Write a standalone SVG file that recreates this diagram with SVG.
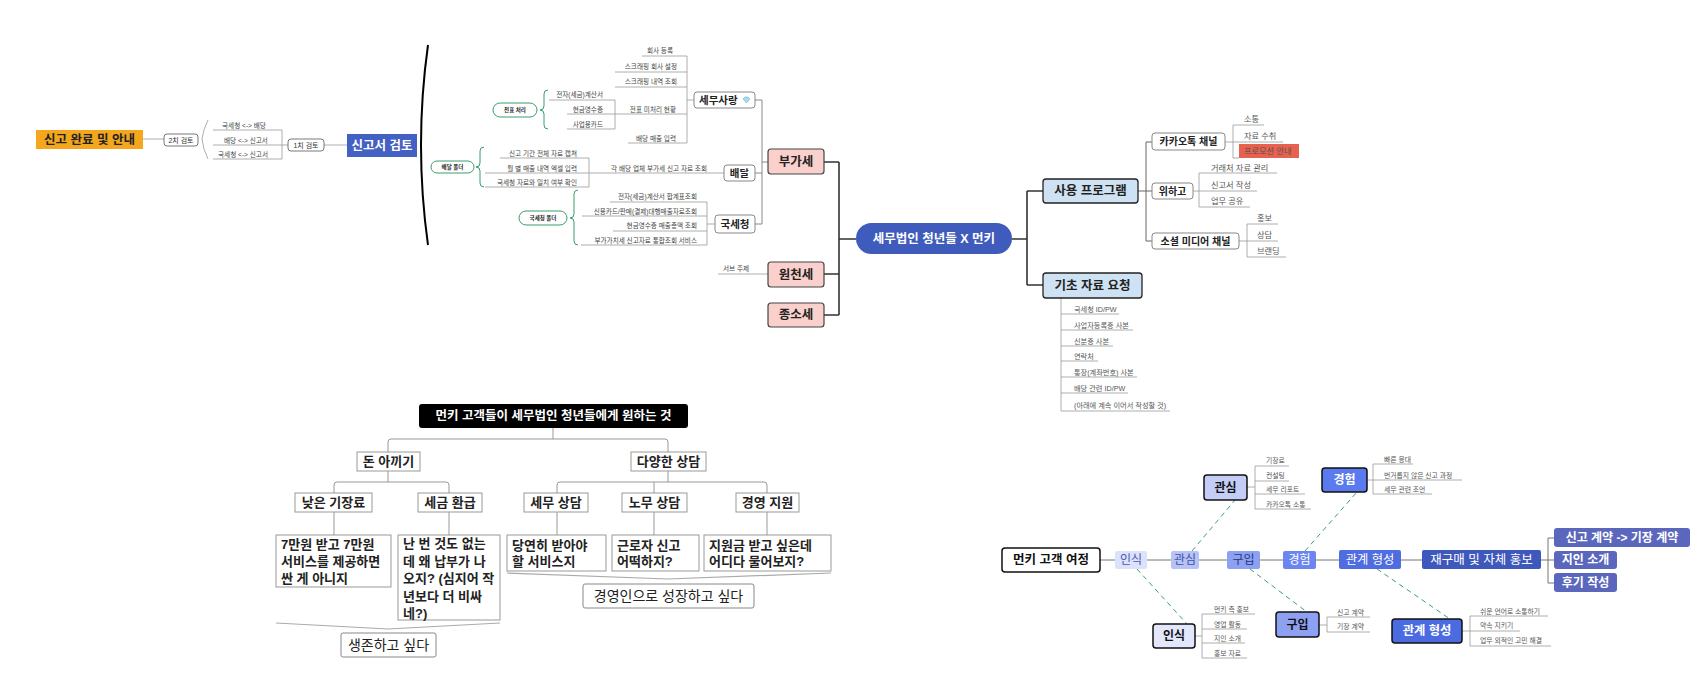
<svg xmlns="http://www.w3.org/2000/svg" width="1705" height="682" viewBox="0 0 1705 682">
<style>
text{font-family:"Liberation Sans","Noto Sans CJK KR",sans-serif}
.c{text-anchor:middle;dominant-baseline:central}
.s{dominant-baseline:central}
.e{text-anchor:end;dominant-baseline:central}
.lf{font-size:6.6px;fill:#444}
.lr{font-size:8.2px;fill:#555}
.lb{font-size:7.2px;fill:#555}
.lj{font-size:6.8px;fill:#555}
.ln{stroke:#999;stroke-width:0.8;fill:none}
.dk{stroke:#333;stroke-width:1.6;fill:none}
.gl{stroke:#999;stroke-width:1;fill:none}
.br{stroke:#3a9e6e;stroke-width:1;fill:none}
.dash{stroke:#3a9e84;stroke-width:1;stroke-dasharray:5 4;fill:none}
.pill{fill:#fff;stroke:#3a9e6e;stroke-width:1}
.pt{font-size:5.5px;font-weight:bold;fill:#222}
.wb{fill:#fff;stroke:#888;stroke-width:1}
.pk{fill:#F9D0CB;stroke:#444;stroke-width:1.2}
.lbx{fill:#CFE2F3;stroke:#222;stroke-width:1.3}
.bb{fill:#fff;stroke:#999;stroke-width:1}
.bt{font-size:13px;font-weight:bold;fill:#222}
.jr{stroke:#777;stroke-width:1;fill:none}
.dbx{stroke:#111;stroke-width:1.5}
</style>

<g id="connectors">
  <!-- top-left review -->
  <path class="ln" d="M143,139 H164"/>
  <path class="ln" d="M208,120 Q203,130 202,139 Q203,149 208,159"/>
  <path class="ln" d="M213,130 H282 M213,145 H288 M213,159 H282 M282,130 V159 M324,145 H347"/>
  <path d="M428,45 Q414,145 428,245" stroke="#000" stroke-width="2" fill="none"/>
  <!-- 세무사랑 -->
  <path class="ln" d="M642,56 H687 M615,72 H687 M615,87 H687 M567,114 H687 M628,143 H687 M687,56 V143 M687,100 H694"/>
  <path class="ln" d="M549,100 H615 M567,129 H615 M615,100 V129"/>
  <path class="br" d="M548,90 Q544,90 544,94 V106 Q544,110 540,110 Q544,110 544,114 V125 Q544,129 548,129"/>
  <!-- 배달 -->
  <path class="ln" d="M500,158 H589 M485,173 H724 M485,187 H589 M589,158 V187"/>
  <path class="br" d="M484,147 Q480,147 480,151 V163 Q480,167 476,167 Q480,167 480,171 V183 Q480,187 484,187"/>
  <!-- 국세청 -->
  <path class="ln" d="M610,202 H707 M582,216 H707 M613,231 H707 M581,245 H707 M707,202 V245 M707,224 H715"/>
  <path class="br" d="M578,190 Q574,190 574,194 V214 Q574,218 570,218 Q574,218 574,222 V241 Q574,245 578,245"/>
  <path class="ln" d="M718,274 H768"/>
  <!-- 부가세 branch -->
  <path stroke="#888" stroke-width="1" fill="none" d="M755,100 H762 M755,173 H762 M755,224 H762 M762,100 V224 M762,162 H768"/>
  <!-- main left -->
  <path class="dk" d="M824,162 H839 M824,274 H839 M824,315 H839 M839,162 V315 M839,239 H856"/>
  <!-- main right -->
  <path class="dk" d="M1012,239 H1027 M1027,191 V285 M1027,191 H1043 M1027,285 H1043"/>
  <path stroke="#666" stroke-width="1" fill="none" d="M1138,191 H1146 M1146,142 V241 M1146,142 H1152 M1146,191 H1152 M1146,241 H1152"/>
  <path class="ln" d="M1225,142 H1233 M1233,125 V158 M1233,125 H1264 M1233,142 H1283 M1233,158 H1239"/>
  <path class="ln" d="M1193,191 H1199 M1199,173 V207 M1199,173 H1277 M1199,191 H1257 M1199,207 H1250"/>
  <path class="ln" d="M1239,241 H1247 M1247,224 V257 M1247,224 H1278 M1247,241 H1278 M1247,257 H1286"/>
  <path class="ln" d="M1061,298 V411 M1061,314 H1119 M1061,330 H1133 M1061,346 H1113 M1061,361 H1098 M1061,377 H1137 M1061,393 H1128 M1061,411 H1170"/>
  <!-- bottom-left tree -->
  <path class="gl" d="M553,428 V439 M388,452 V442 Q388,439 391,439 H665 Q668,439 668,442 V452"/>
  <path class="gl" d="M388,471 V482 M334,493 V485 Q334,482 337,482 H446 Q449,482 449,485 V493"/>
  <path class="gl" d="M668,471 V482 M557,493 V485 Q557,482 560,482 H764 Q767,482 767,485 V493 M654,482 V493"/>
  <path class="gl" d="M334,512 V535 M449,512 V535 M557,512 V535 M654,512 V535 M767,512 V535"/>
  <path stroke="#aaa" stroke-width="1.2" fill="none" d="M276,623 L388,629 L500,623"/>
  <path stroke="#aaa" stroke-width="1.2" fill="none" d="M507,573 L668,579 L831,573"/>
  <!-- bottom-right journey -->
  <path class="jr" d="M1100,560 H1115 M1147,560 H1171 M1199,560 H1227 M1260,560 H1283 M1316,560 H1339 M1401,560 H1422 M1541,560 H1548 M1548,538 V583 M1548,538 H1554 M1548,560 H1554 M1548,583 H1554"/>
  <path class="dash" d="M1137,569 L1187,624 M1192,551 L1235,500 M1250,569 L1307,612 M1305,551 L1357,492 M1377,569 L1450,619"/>
  <path class="ln" d="M1247,487 H1255 M1255,466 V509 M1255,466 H1289 M1255,481 H1289 M1255,494 H1305 M1255,509 H1311"/>
  <path class="ln" d="M1367,480 H1373 M1373,464 V494 M1373,464 H1413 M1373,480 H1462 M1373,494 H1432"/>
  <path class="ln" d="M1195,636 H1202 M1202,614 V658 M1202,614 H1255 M1202,629 H1247 M1202,643 H1245 M1202,658 H1247"/>
  <path class="ln" d="M1319,625 H1327 M1327,617 V632 M1327,617 H1370 M1327,632 H1370"/>
  <path class="ln" d="M1462,631 H1470 M1470,616 V646 M1470,616 H1548 M1470,631 H1520 M1470,646 H1551"/>
</g>

<!-- top-left -->
<g id="n-done"><rect x="36" y="130" width="107" height="19" fill="#F4A61D"/><text class="c" x="89.5" y="139.5" font-size="12.5" font-weight="bold" fill="#222">신고 완료 및 안내</text></g>
<g id="n-2nd"><rect x="164" y="134" width="34" height="12" rx="3" fill="#fff" stroke="#555" stroke-width="0.8"/><text class="c" x="181" y="140" font-size="7" fill="#333">2치 검토</text></g>
<g id="n-2nd-items">
  <text class="c lf" x="244" y="125" font-size="7">국세청 &lt;-&gt; 배당</text>
  <text class="c lf" x="246" y="140" font-size="7">배당 &lt;-&gt; 신고서</text>
  <text class="c lf" x="243" y="154" font-size="7">국세청 &lt;-&gt; 신고서</text>
</g>
<g id="n-1st"><rect x="288" y="139" width="36" height="12" rx="3" fill="#fff" stroke="#555" stroke-width="0.8"/><text class="c" x="306" y="145" font-size="7" fill="#333">1치 검토</text></g>
<g id="n-review"><rect x="347" y="134" width="70" height="23" fill="#4361C2"/><text class="c" x="382" y="145.5" font-size="12.5" font-weight="bold" fill="#fff">신고서 검토</text></g>

<g id="n-jeonpyo"><rect class="pill" x="493" y="103" width="44" height="14" rx="7"/><text class="c pt" x="515" y="110">전표 처리</text></g>
<g id="n-baedal-folder"><rect class="pill" x="431" y="161" width="43" height="12" rx="6"/><text class="c pt" x="452.5" y="167">배달 폴더</text></g>
<g id="n-nts-folder"><rect class="pill" x="519" y="211" width="48" height="14" rx="7"/><text class="c pt" x="543" y="218">국세청 폴더</text></g>

<g id="n-semu-leaves">
  <text class="e lf" x="673" y="50">회사 등록</text>
  <text class="e lf" x="677" y="66">스크래핑 회사 설정</text>
  <text class="e lf" x="677" y="81">스크래핑 내역 조회</text>
  <text class="e lf" x="676" y="109">전표 미처리 현황</text>
  <text class="e lf" x="676" y="138">배당 매출 입력</text>
  <text class="e lf" x="603" y="94">전자(세금)계산서</text>
  <text class="e lf" x="603" y="109">현금영수증</text>
  <text class="e lf" x="603" y="124">사업용카드</text>
</g>
<g id="n-baedal-leaves">
  <text class="e lf" x="577" y="153">신고 기간 전체 자료 캡쳐</text>
  <text class="e lf" x="577" y="168">월 별 매출 내역 엑셀 입력</text>
  <text class="e lf" x="577" y="182">국세청 자료와 일치 여부 확인</text>
  <text class="e lf" x="707" y="168">각 배당 업체 부가세 신고 자료 조회</text>
</g>
<g id="n-nts-leaves">
  <text class="e lf" x="697" y="196">전자(세금)계산서 합계표조회</text>
  <text class="e lf" x="697" y="211">신용카드/판매(결제)대행매출자료조회</text>
  <text class="e lf" x="697" y="225">현금영수증 매출총액 조회</text>
  <text class="e lf" x="697" y="240">부가가치세 신고자료 통합조회 서비스</text>
  <text class="s lf" x="723" y="268">서브 주제</text>
</g>

<g id="n-semusarang"><rect class="wb" x="694" y="92" width="61" height="16" rx="3"/><text class="s" x="699" y="100" font-size="10.5" font-weight="bold" fill="#222">세무사랑</text><polygon points="743,99 745,97 748,97 750,99 746.5,103" fill="#A8DAF2" stroke="#6AB" stroke-width="0.5"/></g>
<g id="n-baedal"><rect class="wb" x="724" y="165" width="31" height="16" rx="3"/><text class="c" x="739.5" y="173" font-size="10.5" font-weight="bold" fill="#222">배달</text></g>
<g id="n-nts"><rect class="wb" x="715" y="215" width="40" height="18" rx="3"/><text class="c" x="735" y="224" font-size="10.5" font-weight="bold" fill="#222">국세청</text></g>

<g id="n-vat"><rect class="pk" x="768" y="149" width="56" height="25" rx="3"/><text class="c" x="796" y="161.5" font-size="12.5" font-weight="bold" fill="#222">부가세</text></g>
<g id="n-wht"><rect class="pk" x="768" y="262" width="56" height="25" rx="3"/><text class="c" x="796" y="274.5" font-size="12.5" font-weight="bold" fill="#222">원천세</text></g>
<g id="n-income"><rect class="pk" x="768" y="303" width="56" height="24" rx="3"/><text class="c" x="796" y="315" font-size="12.5" font-weight="bold" fill="#222">종소세</text></g>

<g id="n-main"><rect x="856" y="223" width="156" height="31" rx="15.5" fill="#3F5CBD"/><text class="c" x="934" y="238.5" font-size="12.5" font-weight="bold" fill="#fff">세무법인 청년들 X 먼키</text></g>

<!-- top-right -->
<g id="n-programs"><rect class="lbx" x="1043" y="179" width="95" height="24" rx="3"/><text class="c" x="1090.5" y="191" font-size="12.5" font-weight="bold" fill="#222">사용 프로그램</text></g>
<g id="n-basic"><rect class="lbx" x="1043" y="273" width="99" height="25" rx="3"/><text class="c" x="1092.5" y="285.5" font-size="12.5" font-weight="bold" fill="#222">기초 자료 요청</text></g>
<g id="n-kakao"><rect class="wb" x="1152" y="133" width="73" height="17" rx="3"/><text class="c" x="1188.5" y="141.5" font-size="10" font-weight="bold" fill="#222">카카오톡 채널</text></g>
<g id="n-wehago"><rect class="wb" x="1152" y="183" width="41" height="16" rx="3"/><text class="c" x="1172.5" y="191" font-size="10" font-weight="bold" fill="#222">위하고</text></g>
<g id="n-social"><rect class="wb" x="1152" y="233" width="87" height="16" rx="3"/><text class="c" x="1195.5" y="241" font-size="10" font-weight="bold" fill="#222">소셜 미디어 채널</text></g>
<g id="n-kakao-leaves">
  <text class="s lr" x="1244" y="119">소통</text>
  <text class="s lr" x="1244" y="136">자료 수취</text>
  <rect x="1239" y="144" width="60" height="14" fill="#E8604E"/>
  <text class="s lr" x="1244" y="151" fill="#333">프로모션 안내</text>
</g>
<g id="n-wehago-leaves">
  <text class="s lr" x="1211" y="168">거래처 자료 관리</text>
  <text class="s lr" x="1211" y="185">신고서 작성</text>
  <text class="s lr" x="1211" y="201">업무 공유</text>
</g>
<g id="n-social-leaves">
  <text class="s lr" x="1257" y="218">홍보</text>
  <text class="s lr" x="1257" y="235">상담</text>
  <text class="s lr" x="1257" y="251">브랜딩</text>
</g>
<g id="n-basic-leaves">
  <text class="s lb" x="1074" y="309">국세청 ID/PW</text>
  <text class="s lb" x="1074" y="325">사업자등록증 사본</text>
  <text class="s lb" x="1074" y="341">신분증 사본</text>
  <text class="s lb" x="1074" y="356">연락처</text>
  <text class="s lb" x="1074" y="372">통장(계좌번호) 사본</text>
  <text class="s lb" x="1074" y="388">배당 관련 ID/PW</text>
  <text class="s lb" x="1074" y="405">(아래에 계속 이어서 작성할 것)</text>
</g>

<!-- bottom-left -->
<g id="n-wants"><rect x="419" y="404" width="269" height="24" rx="3" fill="#000"/><text class="c" x="553.5" y="416" font-size="12.5" font-weight="bold" fill="#fff">먼키 고객들이 세무법인 청년들에게 원하는 것</text></g>
<g id="n-save"><rect class="bb" x="357" y="452" width="63" height="19"/><text class="c bt" x="388.5" y="461.5">돈 아끼기</text></g>
<g id="n-consult"><rect class="bb" x="631" y="452" width="75" height="19"/><text class="c bt" x="668.5" y="461.5">다양한 상담</text></g>
<g id="n-lowfee"><rect class="bb" x="295" y="493" width="77" height="19"/><text class="c bt" x="333.5" y="502.5">낮은 기장료</text></g>
<g id="n-refund"><rect class="bb" x="418" y="493" width="64" height="19"/><text class="c bt" x="450" y="502.5">세금 환급</text></g>
<g id="n-taxc"><rect class="bb" x="524" y="493" width="64" height="19"/><text class="c bt" x="556" y="502.5">세무 상담</text></g>
<g id="n-labor"><rect class="bb" x="622" y="493" width="65" height="19"/><text class="c bt" x="654.5" y="502.5">노무 상담</text></g>
<g id="n-mgmt"><rect class="bb" x="736" y="493" width="63" height="19"/><text class="c bt" x="767.5" y="502.5">경영 지원</text></g>
<g id="n-q1"><rect class="bb" x="276" y="535" width="115" height="52"/>
  <text class="s bt" x="281" y="544">7만원 받고 7만원</text>
  <text class="s bt" x="281" y="561">서비스를 제공하면</text>
  <text class="s bt" x="281" y="578">싼 게 아니지</text></g>
<g id="n-q2"><rect class="bb" x="398" y="535" width="102" height="85"/>
  <text class="s bt" x="403" y="543">난 번 것도 없는</text>
  <text class="s bt" x="403" y="561">데 왜 납부가 나</text>
  <text class="s bt" x="403" y="578">오지? (심지어 작</text>
  <text class="s bt" x="403" y="596">년보다 더 비싸</text>
  <text class="s bt" x="403" y="613">네?)</text></g>
<g id="n-q3"><rect class="bb" x="507" y="535" width="99" height="36"/>
  <text class="s bt" x="512" y="545">당연히 받아야</text>
  <text class="s bt" x="512" y="561">할 서비스지</text></g>
<g id="n-q4"><rect class="bb" x="612" y="535" width="87" height="36"/>
  <text class="s bt" x="617" y="545">근로자 신고</text>
  <text class="s bt" x="617" y="561">어떡하지?</text></g>
<g id="n-q5"><rect class="bb" x="704" y="535" width="127" height="36"/>
  <text class="s bt" x="709" y="545">지원금 받고 싶은데</text>
  <text class="s bt" x="709" y="561">어디다 물어보지?</text></g>
<g id="n-survive"><rect x="341" y="633" width="95" height="24" rx="2" fill="#fff" stroke="#888"/><text class="c" x="388.5" y="645" font-size="14" fill="#222">생존하고 싶다</text></g>
<g id="n-grow"><rect x="583" y="584" width="171" height="24" rx="2" fill="#fff" stroke="#888"/><text class="c" x="668.5" y="596" font-size="14" fill="#222">경영인으로 성장하고 싶다</text></g>

<!-- bottom-right -->
<g id="n-journey"><rect x="1002" y="548" width="98" height="24" rx="3" fill="#fff" class="dbx"/><text class="c" x="1051" y="560" font-size="12.5" font-weight="bold" fill="#111">먼키 고객 여정</text></g>
<g id="n-j1"><rect x="1115" y="551" width="32" height="18" rx="2" fill="#DCE2FA"/><text class="c" x="1131" y="560" font-size="12" fill="#4A5BB0">인식</text></g>
<g id="n-j2"><rect x="1171" y="551" width="28" height="18" rx="2" fill="#B7C3F5"/><text class="c" x="1185" y="560" font-size="12" fill="#3D4FA8">관심</text></g>
<g id="n-j3"><rect x="1227" y="551" width="33" height="18" rx="2" fill="#8EA0F1"/><text class="c" x="1243.5" y="560" font-size="12" fill="#25357F">구입</text></g>
<g id="n-j4"><rect x="1283" y="551" width="33" height="18" rx="2" fill="#6B86EE"/><text class="c" x="1299.5" y="560" font-size="12" fill="#fff">경험</text></g>
<g id="n-j5"><rect x="1339" y="550" width="62" height="19" rx="2" fill="#4F6DE0"/><text class="c" x="1370" y="559.5" font-size="12.3" fill="#fff">관계 형성</text></g>
<g id="n-j6"><rect x="1422" y="550" width="119" height="19" rx="2" fill="#3F58BC"/><text class="c" x="1481.5" y="559.5" font-size="12.5" fill="#fff">재구매 및 자체 홍보</text></g>
<g id="n-r1"><rect x="1554" y="528" width="136" height="19" rx="3" fill="#5B67BD"/><text class="c" x="1622" y="537.5" font-size="12" font-weight="bold" fill="#fff">신고 계약 -&gt; 기장 계약</text></g>
<g id="n-r2"><rect x="1554" y="551" width="63" height="18" rx="3" fill="#5B67BD"/><text class="c" x="1585.5" y="560" font-size="12" font-weight="bold" fill="#fff">지인 소개</text></g>
<g id="n-r3"><rect x="1554" y="573" width="63" height="19" rx="3" fill="#5B67BD"/><text class="c" x="1585.5" y="582.5" font-size="12" font-weight="bold" fill="#fff">후기 작성</text></g>

<g id="n-d-interest"><rect x="1204" y="475" width="43" height="25" rx="3" fill="#C4CDF6" class="dbx"/><text class="c" x="1225.5" y="487.5" font-size="12" font-weight="bold" fill="#111">관심</text>
  <text class="s lj" x="1266" y="460">기장료</text>
  <text class="s lj" x="1266" y="475">컨설팅</text>
  <text class="s lj" x="1266" y="489">세무 리포트</text>
  <text class="s lj" x="1266" y="504">카카오톡 소통</text></g>
<g id="n-d-exp"><rect x="1322" y="468" width="45" height="24" rx="3" fill="#5A7AEE" class="dbx"/><text class="c" x="1344.5" y="480" font-size="12" font-weight="bold" fill="#fff">경험</text>
  <text class="s lj" x="1384" y="459">빠른 응대</text>
  <text class="s lj" x="1384" y="475">번거롭지 않은 신고 과정</text>
  <text class="s lj" x="1384" y="489">세무 관련 조언</text></g>
<g id="n-d-aware"><rect x="1153" y="624" width="42" height="24" rx="3" fill="#E3E7FB" class="dbx"/><text class="c" x="1174" y="636" font-size="12" font-weight="bold" fill="#111">인식</text>
  <text class="s lj" x="1214" y="609">먼키 측 홍보</text>
  <text class="s lj" x="1214" y="624">영업 활동</text>
  <text class="s lj" x="1214" y="638">지인 소개</text>
  <text class="s lj" x="1214" y="653">홍보 자료</text></g>
<g id="n-d-buy"><rect x="1276" y="612" width="43" height="25" rx="3" fill="#8EA0F1" class="dbx"/><text class="c" x="1297.5" y="624.5" font-size="12" font-weight="bold" fill="#111">구입</text>
  <text class="s lj" x="1337" y="612">신고 계약</text>
  <text class="s lj" x="1337" y="626">기장 계약</text></g>
<g id="n-d-rel"><rect x="1392" y="619" width="70" height="24" rx="3" fill="#4B6BE0" class="dbx"/><text class="c" x="1427" y="631" font-size="12.3" font-weight="bold" fill="#fff">관계 형성</text>
  <text class="s lj" x="1480" y="611">쉬운 언어로 소통하기</text>
  <text class="s lj" x="1480" y="625">약속 지키기</text>
  <text class="s lj" x="1480" y="640">업무 외적인 고민 해결</text></g>
</svg>
